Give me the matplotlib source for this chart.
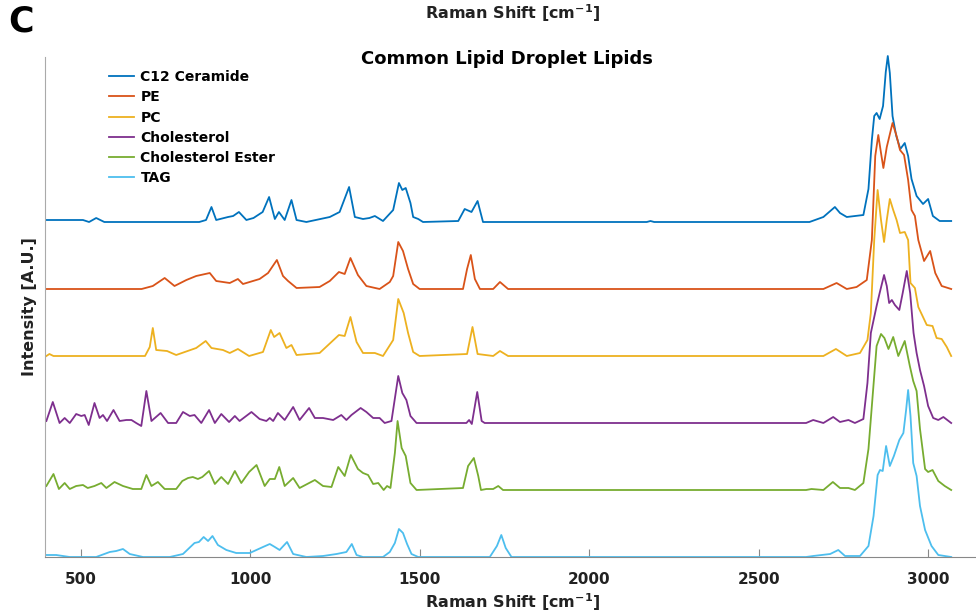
import matplotlib
matplotlib.use("Agg")
import matplotlib.pyplot as plt

# Raman spectra (wavenumber in cm^-1, intensity in arbitrary units above each baseline)
c12_x = [399, 507, 525, 546, 570, 700, 850, 870, 886, 900, 935, 950, 967, 989, 1010, 1037,
         1056, 1073, 1085, 1102, 1122, 1137, 1166, 1235, 1264, 1292, 1309, 1333, 1352, 1368,
         1392, 1422, 1439, 1449, 1459, 1473, 1481, 1496, 1510, 1614, 1633, 1653, 1671, 1687,
         2170, 2181, 2192, 2650, 2691, 2725, 2740, 2760, 2809, 2824, 2834, 2841, 2848, 2857,
         2867, 2875, 2881, 2887, 2895, 2906, 2918, 2931, 2941, 2951, 2966, 2985, 3000, 3014,
         3034, 3068]
c12_y = [2, 2, 0, 4, 0, 0, 0, 2, 15, 2, 5, 6, 10, 2, 4, 10,
         25, 3, 10, 2, 22, 2, 0, 5, 10, 35, 5, 3, 4, 6,
         1, 12, 39, 32, 34, 19, 5, 3, 0, 1, 13, 10, 21, 0,
         0, 1, 0, 0, 5, 15, 9, 5, 7, 33, 82, 106, 109, 103,
         116, 150, 166, 149, 106, 86, 73, 79, 66, 43, 26, 18, 23, 6,
         1, 1]

pe_x = [399, 680, 713, 748, 777, 812, 841, 881, 900, 940, 964, 979, 1028, 1053, 1079, 1097,
        1112, 1137, 1205, 1235, 1262, 1279, 1296, 1318, 1343, 1382, 1412, 1422, 1437, 1451,
        1466, 1481, 1500, 1628, 1640, 1651, 1663, 1678, 1717, 1737, 1761, 2691, 2730, 2760,
        2789, 2819, 2834, 2844, 2853, 2861, 2868, 2878, 2895, 2907, 2917, 2929, 2941, 2951,
        2961, 2971, 2988, 3006, 3021, 3040, 3068]
pe_y = [0, 0, 3, 11, 3, 9, 13, 16, 8, 6, 10, 5, 10, 16, 29, 13,
        8, 1, 2, 8, 17, 15, 31, 14, 3, 0, 7, 13, 47, 38,
        20, 5, 0, 0, 20, 34, 10, 0, 0, 7, 0, 0, 6, 0,
        2, 9, 49, 133, 154, 136, 121, 142, 166, 153, 139, 134, 109, 79,
        73, 49, 28, 38, 16, 3, 0]

pc_x = [399, 408, 420, 690, 704, 713, 723, 755, 782, 841, 869, 886, 920, 940, 964, 997,
        1038, 1061, 1071, 1087, 1107, 1122, 1137, 1205, 1262, 1279, 1296, 1314, 1333, 1368,
        1392, 1422, 1437, 1453, 1466, 1481, 1500, 1640, 1656, 1671, 1717, 1737, 1761, 2691,
        2728, 2760, 2799, 2821, 2831, 2841, 2851, 2861, 2870, 2878, 2887, 2897, 2907, 2917,
        2931, 2941, 2948, 2961, 2971, 2996, 3013, 3025, 3040, 3055, 3068]
pc_y = [0, 2, 0, 0, 9, 28, 6, 5, 1, 8, 15, 8, 6, 3, 7, 0,
        4, 26, 19, 23, 8, 11, 1, 3, 21, 20, 39, 14, 3, 3,
        0, 16, 57, 43, 23, 4, 0, 2, 29, 2, 0, 5, 0, 0,
        7, 0, 3, 16, 43, 116, 166, 136, 114, 136, 157, 146, 136, 123,
        124, 116, 73, 68, 49, 31, 30, 18, 17, 9, 0]

chol_x = [399, 418, 438, 453, 468, 487, 502, 512, 524, 541, 556, 566, 578, 597, 615, 635,
          650, 664, 679, 694, 709, 736, 758, 782, 802, 822, 836, 856, 879, 896, 915, 938,
          955, 969, 1004, 1028, 1048, 1058, 1068, 1082, 1102, 1127, 1146, 1174, 1191, 1215,
          1245, 1269, 1284, 1299, 1326, 1343, 1363, 1382, 1397, 1417, 1437, 1449, 1461, 1473,
          1491, 1638, 1646, 1654, 1670, 1683, 1692, 2640, 2661, 2691, 2720, 2740, 2765, 2784,
          2809, 2821, 2831, 2848, 2857, 2870, 2878, 2885, 2893, 2902, 2915, 2925, 2937, 2947,
          2957, 2966, 2976, 2988, 3000, 3015, 3030, 3045, 3068]
chol_y = [2, 21, 0, 5, 0, 9, 7, 8, -2, 20, 5, 8, 2, 13, 2, 3,
          3, 0, -3, 32, 2, 10, 0, 0, 11, 7, 8, 0, 13, 0, 9, 1,
          7, 2, 11, 4, 2, 5, 2, 10, 3, 16, 3, 15, 5, 5,
          3, 8, 3, 8, 15, 11, 5, 5, 0, 2, 47, 30, 23, 7,
          0, 0, 3, -1, 31, 2, 0, 0, 3, 0, 6, 1, 3, 0,
          4, 40, 90, 117, 130, 148, 137, 120, 123, 118, 113, 130, 152, 130,
          90, 70, 53, 37, 17, 5, 3, 6, 0]

ester_x = [399, 420, 436, 453, 468, 487, 507, 521, 541, 561, 576, 600, 625, 654, 679, 694,
           709, 728, 748, 782, 800, 817, 831, 846, 859, 879, 896, 915, 935, 955, 974, 997,
           1019, 1043, 1058, 1073, 1086, 1102, 1127, 1146, 1191, 1215, 1240, 1260, 1279, 1297,
           1318, 1333, 1348, 1363, 1378, 1394, 1404, 1414, 1427, 1435, 1447, 1459, 1473, 1491,
           1628, 1643, 1660, 1673, 1681, 1697, 1717, 1732, 1746, 2640, 2656, 2691, 2719, 2740,
           2765, 2784, 2809, 2824, 2837, 2848, 2861, 2871, 2883, 2897, 2912, 2931, 2946, 2956,
           2966, 2976, 2991, 3000, 3013, 3030, 3049, 3068]
ester_y = [4, 16, 1, 7, 1, 4, 5, 2, 4, 7, 2, 8, 4, 1, 1, 15,
           4, 8, 1, 1, 9, 12, 13, 11, 13, 19, 6, 13, 6, 19, 7, 18,
           25, 4, 11, 11, 23, 4, 12, 2, 10, 4, 3, 23, 14, 35,
           21, 17, 15, 6, 7, 0, 4, 2, 37, 69, 42, 34, 7, 0,
           2, 24, 32, 14, 0, 1, 1, 4, 0, 0, 1, 0, 8, 2,
           2, 0, 7, 41, 97, 144, 156, 152, 141, 153, 134, 149, 124, 109,
           99, 61, 21, 18, 20, 9, 4, 0]

tag_x = [399, 428, 468, 546, 586, 605, 625, 645, 684, 763, 802, 836, 849, 863, 876, 889,
         905, 930, 959, 999, 1038, 1058, 1073, 1087, 1109, 1127, 1166, 1215, 1255, 1284,
         1300, 1314, 1333, 1392, 1412, 1427, 1439, 1451, 1463, 1476, 1496, 1707, 1728, 1741,
         1754, 1771, 2640, 2661, 2711, 2735, 2755, 2799, 2824, 2839, 2851, 2858, 2866, 2876,
         2887, 2899, 2915, 2927, 2935, 2941, 2948, 2956, 2966, 2976, 2991, 3010, 3030, 3068]
tag_y = [2, 2, 0, 0, 5, 6, 8, 3, 0, 0, 3, 14, 15, 20, 16, 21,
         12, 7, 4, 4, 10, 13, 10, 7, 15, 3, 0, 1, 3, 5,
         13, 2, 0, 0, 5, 14, 28, 24, 13, 3, 0, 0, 11, 22,
         9, 0, 0, 1, 3, 7, 1, 1, 11, 41, 82, 87, 86, 111,
         91, 101, 117, 124, 147, 167, 141, 94, 81, 51, 27, 11, 2, 0]

labels = ["C12 Ceramide", "PE", "PC", "Cholesterol", "Cholesterol Ester", "TAG"]
spectra = [(c12_x, c12_y), (pe_x, pe_y), (pc_x, pc_y),
           (chol_x, chol_y), (ester_x, ester_y), (tag_x, tag_y)]

# vertical stacking of the traces
offsets = [335, 268, 201, 134, 67, 0]
colors = ["#0072BD", "#D95319", "#EDB120", "#7E2F8E", "#77AC30", "#4DBEEE"]

plt.rcParams["font.family"] = ["DejaVu Sans"]
plt.rcParams["font.weight"] = "bold"

fig = plt.figure(figsize=(9.76, 6.16), dpi=100)
ax = fig.add_axes([45 / 976, 59 / 616, 935 / 976, 500 / 616])

for (xs, ys), off, col, lab in zip(spectra, offsets, colors, labels):
    ax.plot(xs, [v + off for v in ys], color=col, lw=1.3, label=lab, clip_on=False)

ax.set_xlim(395, 3153)
ax.set_ylim(0, 500)
ax.set_xticks([500, 1000, 1500, 2000, 2500, 3000])
ax.set_yticks([])
ax.tick_params(axis="x", direction="in", length=6, width=0.8, color="#888888",
               labelsize=11, labelcolor="#222222", pad=11)
for lbl in ax.get_xticklabels():
    lbl.set_fontweight("bold")
for side in ["top", "right"]:
    ax.spines[side].set_visible(False)
ax.spines["left"].set_color("#aaaaaa")
ax.spines["bottom"].set_color("#888888")

ax.set_xlabel("Raman Shift [cm$^{-1}$]", fontsize=11.5, fontweight="bold", color="#222222",
              labelpad=3)
ax.set_ylabel("Intensity [A.U.]", fontsize=11.5, fontweight="bold", color="#222222",
              labelpad=6)

fig.text(507 / 976, 1 - 59 / 616, "Common Lipid Droplet Lipids", ha="center", va="center",
         fontsize=13, fontweight="bold")
fig.text(513 / 976, 1 - 13 / 616, "Raman Shift [cm$^{-1}$]", ha="center", va="center",
         fontsize=11.5, fontweight="bold", color="#222222")
fig.text(8 / 976, 1 - 22 / 616, "C", ha="left", va="center", fontsize=25, fontweight="bold")

leg = ax.legend(loc="upper left", bbox_to_anchor=(58 / 935, 0.985), frameon=False,
                fontsize=10, handlelength=1.8, handletextpad=0.5, labelspacing=0.45,
                borderaxespad=0)
for t in leg.get_texts():
    t.set_fontweight("bold")

fig.savefig("out.png", dpi=100)
